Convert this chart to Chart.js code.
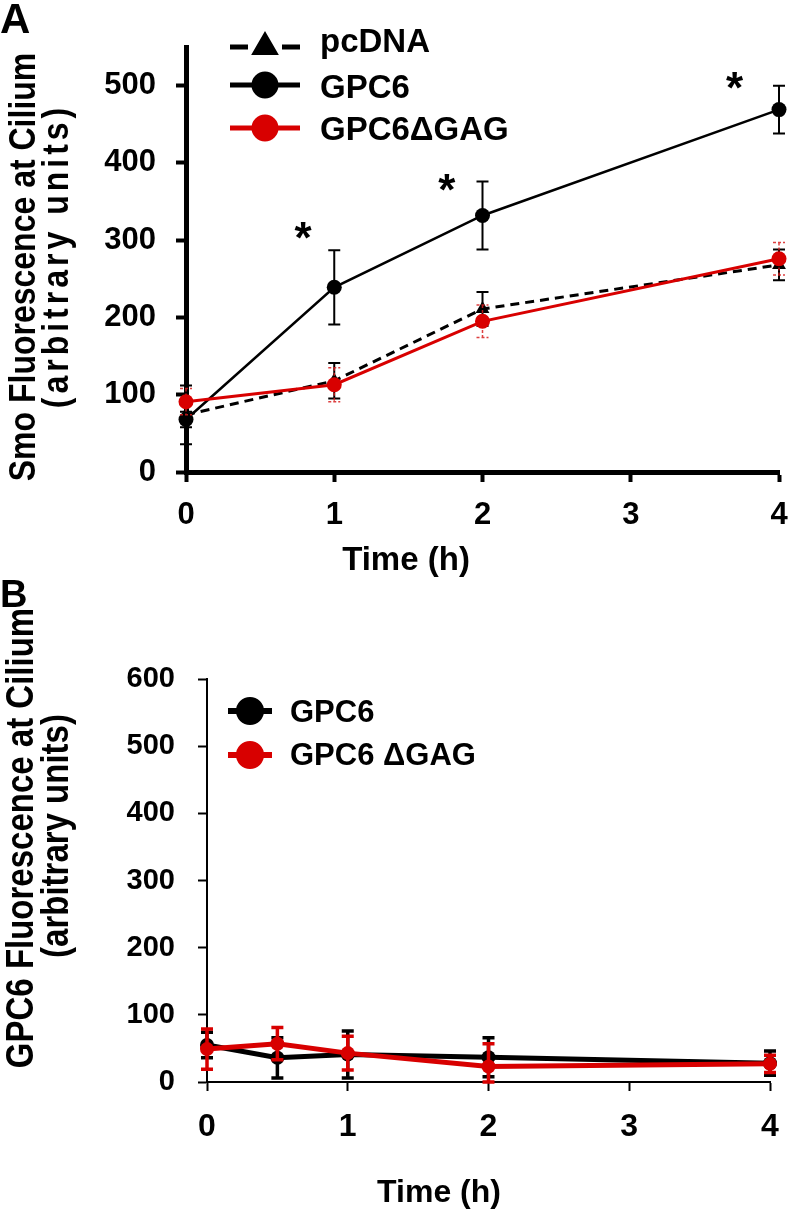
<!DOCTYPE html>
<html>
<head>
<meta charset="utf-8">
<script src="https://cdn.jsdelivr.net/npm/chart.js@4.4.1/dist/chart.umd.min.js"></script>
<style>
    html, body { margin: 0; padding: 0; background: #fff; }
    #wrapA { position: absolute; left: 0; top: 0; width: 788px; height: 600px; }
    #wrapB { position: absolute; left: 0; top: 580px; width: 788px; height: 632px; }
</style>
</head>
<body>
<div id="wrapA"><canvas id="chartA"></canvas></div>
<div id="wrapB"><canvas id="chartB"></canvas></div>
<script>
// Panel A - Smo fluorescence at cilium
const timesA = [0, 1, 2, 4];
const pcdnaA = [74, 118, 211, 268];
const pcdnaErrA = [38, 23, 22, 20];
const gpc6A = [68, 239, 332, 469];
const gpc6ErrA = [10, 48, 44, 31];
const dgagA = [91, 113, 195, 276];
const dgagErrA = [17, 22, 21, 21];
const yTicksA = [0, 100, 200, 300, 400, 500];
const starX = [0.79, 1.76, 3.70];
const starY = [313, 375, 507];

// Panel B - GPC6 fluorescence at cilium
const timesB = [0, 0.5, 1, 2, 4];
const gpc6B = [55, 36, 41, 37, 28];
const gpc6ErrB = [19, 30, 35, 29, 18];
const dgagB = [49, 57, 43, 23, 27];
const dgagErrB = [30, 24, 25, 34, 13];
const yTicksB = [0, 100, 200, 300, 400, 500, 600];

const xTicks = [0, 1, 2, 3, 4];

const FONT = "'Liberation Sans', Arial, sans-serif";
const RED = '#d80000';
Chart.defaults.font.family = FONT;
Chart.defaults.color = '#000';

const pts = (xs, ys) => xs.map((x, i) => ({ x: x, y: ys[i] }));

// error bars, drawn under each dataset's own line/markers
const errorBars = {
    id: 'errorBars',
    beforeDatasetDraw(chart, args) {
        const ds = chart.data.datasets[args.index];
        if (!ds.errors) return;
        const xs = chart.scales.x, ys = chart.scales.y;
        const ctx = chart.ctx;
        ctx.save();
        ctx.strokeStyle = ds.errColor;
        ctx.lineWidth = ds.errWidth;
        ctx.setLineDash(ds.errDash || []);
        ds.data.forEach((p, i) => {
            const e = ds.errors[i];
            const px = xs.getPixelForValue(p.x);
            const top = ys.getPixelForValue(p.y + e);
            const bot = ys.getPixelForValue(Math.max(p.y - e, ys.min));
            ctx.beginPath();
            ctx.moveTo(px, top); ctx.lineTo(px, bot);
            ctx.moveTo(px - ds.capHalf, top); ctx.lineTo(px + ds.capHalf, top);
            ctx.moveTo(px - ds.capHalf, bot); ctx.lineTo(px + ds.capHalf, bot);
            ctx.stroke();
        });
        ctx.restore();
    }
};

// significance stars
const stars = {
    id: 'stars',
    afterDatasetsDraw(chart, args, opts) {
        if (!opts.x) return;
        const ctx = chart.ctx;
        ctx.save();
        ctx.font = 'bold 44px ' + FONT;
        ctx.fillStyle = '#000';
        ctx.textAlign = 'center';
        ctx.textBaseline = 'alphabetic';
        opts.x.forEach((v, i) => {
            const px = chart.scales.x.getPixelForValue(v);
            const py = chart.scales.y.getPixelForValue(opts.y[i]);
            ctx.fillText('*', px, py + 23);
        });
        ctx.restore();
    }
};

// legend with line samples, axis titles and panel letter
const decor = {
    id: 'decor',
    afterDraw(chart, args, o) {
        const ctx = chart.ctx;
        ctx.save();
        // legend
        chart.data.datasets.forEach((ds, i) => {
            const ly = o.lineY[i];
            ctx.strokeStyle = ds.borderColor;
            ctx.fillStyle = ds.borderColor;
            ctx.lineWidth = o.lineWidth;
            ctx.setLineDash(ds.borderDash ? o.legendDash : []);
            ctx.beginPath();
            ctx.moveTo(o.x0, ly); ctx.lineTo(o.x1, ly);
            ctx.stroke();
            ctx.setLineDash([]);
            Chart.helpers.drawPoint(ctx, { pointStyle: ds.pointStyle, radius: o.radius, rotation: 0, borderWidth: 1 }, (o.x0 + o.x1) / 2, ly);
            ctx.font = 'bold ' + o.fontSize + 'px ' + FONT;
            ctx.fillStyle = '#000';
            ctx.textAlign = 'left';
            ctx.textBaseline = 'alphabetic';
            ctx.fillText(ds.label, o.textX, o.textY[i]);
        });
        // x-axis title
        ctx.font = 'bold ' + o.xTitleSize + 'px ' + FONT;
        ctx.textAlign = 'center';
        ctx.textBaseline = 'middle';
        ctx.fillText(o.xTitle, o.xTitleX, o.xTitleY);
        // y-axis title, two rotated lines (slightly widened like the original)
        ctx.font = 'bold ' + o.titleSize + 'px ' + FONT;
        ctx.textBaseline = 'alphabetic';
        o.title.forEach((t, i) => {
            ctx.save();
            ctx.letterSpacing = (o.titleSpacing[i] || 0) + 'px';
            ctx.translate(o.titleX[i], o.titleCY[i]);
            ctx.scale(1.18, 1);
            ctx.rotate(-Math.PI / 2);
            ctx.fillText(t, 0, 0);
            ctx.restore();
        });
        // panel letter
        ctx.font = 'bold ' + o.letterSize + 'px ' + FONT;
        ctx.textAlign = 'left';
        ctx.fillText(o.letter, 0, o.letterY);
        ctx.restore();
    }
};

function scales(cfg) {
    const axisCommon = {
        grid: { display: true, drawOnChartArea: false, drawTicks: true, tickLength: cfg.tickLen, tickWidth: cfg.tickW, color: '#000' },
        border: { display: true, color: '#000', width: cfg.axisW }
    };
    return {
        x: {
            type: 'linear', min: 0, max: 4,
            afterBuildTicks: s => { s.ticks = xTicks.map(v => ({ value: v })); },
            afterFit: s => { s.height = cfg.xHeight; s.paddingLeft = 0; s.paddingRight = 0; },
            ...axisCommon,
            ticks: { font: { size: cfg.xTickSize, weight: 'bold' }, color: '#000', padding: cfg.xPad, maxRotation: 0 }
        },
        y: {
            type: 'linear', min: 0, max: cfg.yMax,
            afterBuildTicks: s => { s.ticks = cfg.yTicks.map(v => ({ value: v })); },
            afterFit: s => { s.width = cfg.yWidth; s.paddingTop = 0; s.paddingBottom = 0; },
            ...axisCommon,
            ticks: { font: { size: cfg.yTickSize, weight: 'bold' }, color: '#000', padding: cfg.yPad }
        }
    };
}

const commonOpts = {
    responsive: true,
    maintainAspectRatio: false,
    animation: false,
    events: []
};

new Chart(document.getElementById('chartA'), {
    type: 'line',
    data: {
        datasets: [
            {
                label: 'pcDNA', data: pts(timesA, pcdnaA), errors: pcdnaErrA,
                borderColor: '#000', backgroundColor: '#000', borderWidth: 3, borderDash: [9, 6],
                pointStyle: 'triangle', pointRadius: 8, pointBorderWidth: 0, pointBackgroundColor: '#000',
                errColor: '#000', errWidth: 2, capHalf: 6, order: 2, clip: false, tension: 0
            },
            {
                label: 'GPC6', data: pts(timesA, gpc6A), errors: gpc6ErrA,
                borderColor: '#000', backgroundColor: '#000', borderWidth: 2.5,
                pointStyle: 'circle', pointRadius: 7.5, pointBorderWidth: 0, pointBackgroundColor: '#000',
                errColor: '#000', errWidth: 2, capHalf: 6, order: 1, clip: false, tension: 0
            },
            {
                label: 'GPC6\u0394GAG', data: pts(timesA, dgagA), errors: dgagErrA,
                borderColor: RED, backgroundColor: RED, borderWidth: 3,
                pointStyle: 'circle', pointRadius: 7.5, pointBorderWidth: 0, pointBackgroundColor: RED,
                errColor: 'rgba(215,30,30,0.85)', errWidth: 1.5, errDash: [3, 2], capHalf: 6, order: 0, clip: false, tension: 0
            }
        ]
    },
    options: {
        ...commonOpts,
        layout: { padding: { left: 0, top: 47, right: 9, bottom: 0 } },
        scales: scales({
            tickLen: 10, tickW: 4, axisW: 5, xHeight: 128, yWidth: 186, xTickSize: 31, yTickSize: 31,
            xPad: 15, yPad: 20, yMax: 550, yTicks: yTicksA
        }),
        plugins: {
            legend: { display: false },
            tooltip: { enabled: false },
            stars: { x: starX, y: starY },
            decor: {
                x0: 230, x1: 300, textX: 320, lineY: [47, 85, 128], textY: [52, 98, 140],
                fontSize: 33, lineWidth: 5, radius: 11, legendDash: [18, 34],
                xTitle: 'Time (h)', xTitleX: 406, xTitleY: 561, xTitleSize: 33,
                title: ['Smo Fluorescence at Cilium', '(arbitrary units)'], titleX: [35, 68], titleCY: [267, 256], titleSize: 32,
                titleSpacing: [0, 4],
                letter: 'A', letterSize: 42, letterY: 33
            }
        }
    },
    plugins: [errorBars, stars, decor]
});

new Chart(document.getElementById('chartB'), {
    type: 'line',
    data: {
        datasets: [
            {
                label: 'GPC6', data: pts(timesB, gpc6B), errors: gpc6ErrB,
                borderColor: '#000', backgroundColor: '#000', borderWidth: 5,
                pointStyle: 'circle', pointRadius: 7, pointBorderWidth: 0, pointBackgroundColor: '#000',
                errColor: '#000', errWidth: 3.5, capHalf: 6, order: 1, clip: false, tension: 0
            },
            {
                label: 'GPC6 \u0394GAG', data: pts(timesB, dgagB), errors: dgagErrB,
                borderColor: RED, backgroundColor: RED, borderWidth: 5,
                pointStyle: 'circle', pointRadius: 7, pointBorderWidth: 0, pointBackgroundColor: RED,
                errColor: RED, errWidth: 3.5, capHalf: 6, order: 0, clip: false, tension: 0
            }
        ]
    },
    options: {
        ...commonOpts,
        layout: { padding: { left: 0, top: 99, right: 18, bottom: 0 } },
        scales: scales({
            tickLen: 9, tickW: 2, axisW: 2, xHeight: 130, yWidth: 207, xTickSize: 32, yTickSize: 29,
            xPad: 17, yPad: 23, yMax: 600, yTicks: yTicksB
        }),
        plugins: {
            legend: { display: false },
            tooltip: { enabled: false },
            decor: {
                x0: 228, x1: 272, textX: 290, lineY: [131, 175], textY: [142, 185],
                fontSize: 31, lineWidth: 6, radius: 11, legendDash: [],
                xTitle: 'Time (h)', xTitleX: 439, xTitleY: 613, xTitleSize: 32,
                title: ['GPC6 Fluorescence at Cilium', '(arbitrary units)'], titleX: [33, 68], titleCY: [258, 256], titleSize: 33,
                titleSpacing: [0, 0],
                letter: 'B', letterSize: 38, letterY: 27
            }
        }
    },
    plugins: [errorBars, decor]
});
</script>
</body>
</html>
